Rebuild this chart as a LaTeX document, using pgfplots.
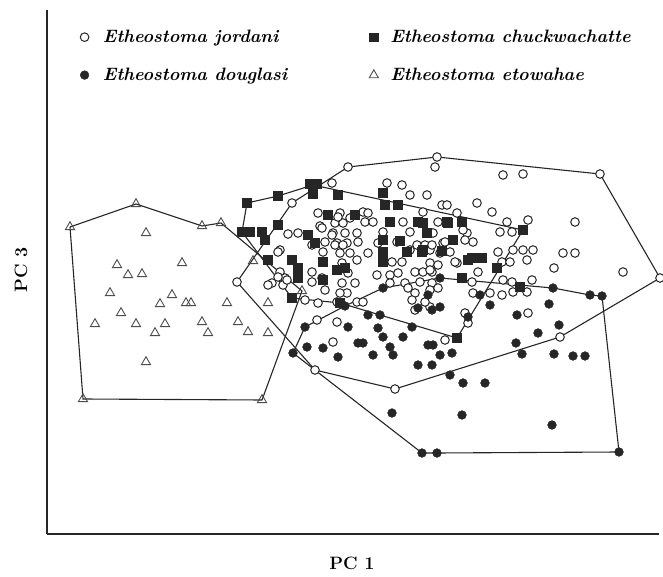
\documentclass[border=0pt]{standalone}
\usepackage{pgfplots}
\pgfplotsset{compat=1.18}
\usepackage{pgfplotstable}

\pgfplotstableread{
x y
237 282
292 203
348 167
437 157
600 174
660 278
560 337
395 389
315 370
435 167
332 183
387 183
402 185
410 195
427 195
442 205
447 205
457 213
318 213
340 213
363 212
368 213
365 222
373 222
403 222
423 212
438 222
335 223
343 223
288 234
298 233
320 226
333 233
345 233
357 233
383 232
410 232
433 233
467 233
280 250
312 245
325 242
337 243
347 243
358 242
378 243
397 242
417 245
425 245
443 243
340 253
350 253
368 253
410 250
430 250
440 253
450 252
457 263
280 272
285 278
272 283
283 285
312 272
312 282
342 263
357 260
392 262
402 262
430 263
438 265
348 273
377 275
390 275
398 273
415 272
423 272
432 272
342 283
355 283
390 283
405 283
420 282
432 283
347 293
415 293
430 290
438 288
408 288
305 300
318 303
337 302
357 302
363 302
322 278
325 290
340 293
335 245
343 245
323 252
322 228
332 235
338 217
350 218
278 252
268 285
317 320
337 322
333 342
445 340
412 300
415 310
430 307
425 302
503 175
523 174
477 203
492 212
507 222
528 220
575 222
500 232
512 232
463 230
473 242
465 240
445 242
432 245
498 252
513 250
523 250
533 250
527 260
502 262
510 262
455 262
554 268
623 272
478 272
472 282
503 280
512 282
532 280
513 292
527 292
473 293
490 293
502 295
465 313
468 323
528 313
563 253
575 253
430 270
287 280
278 277
}\jordani

\pgfplotstableread{
x y
247 203
278 196
310 184
317 184
313 194
338 195
278 225
242 232
250 232
262 232
265 240
308 235
315 243
328 215
355 215
383 193
385 205
398 205
390 222
418 222
427 233
383 240
400 241
383 252
407 252
422 252
442 251
383 262
268 260
292 260
298 268
298 278
323 262
323 280
337 270
345 268
292 298
340 303
447 222
462 222
453 240
468 260
423 223
448 223
423 250
472 258
482 258
497 268
462 278
523 230
520 287
457 338
}\chuck

\pgfplotstableread{
x y
293 353
305 327
345 306
383 288
440 278
553 288
590 295
602 296
619 452
437 453
422 453
348 327
307 347
323 348
338 357
358 343
363 343
373 355
378 328
383 337
390 347
393 355
403 337
412 327
368 315
380 315
428 345
433 345
440 355
452 353
418 365
432 365
450 375
463 383
485 383
392 413
462 415
552 425
428 295
440 307
468 317
418 308
432 310
480 295
490 305
549 304
517 315
559 325
538 333
516 343
522 354
554 354
573 356
585 356
}\douglasi

\pgfplotstableread{
x y
70 227
136 204
202 226
221 223
302 291
262 400
83 399
146 233
117 265
128 275
142 274
182 263
110 293
172 295
160 304
186 303
191 303
227 303
268 303
121 313
95 324
136 324
165 324
155 333
202 322
208 333
238 322
248 332
268 333
146 362
253 261
}\etowahae

\pgfplotstableread{
x y
70 227
136 204
202 226
221 223
302 291
262 400
83 399
70 227
}\hullE

\pgfplotstableread{
x y
237 282
292 203
348 167
437 157
600 174
660 278
560 337
395 389
315 370
237 282
}\hullJ

\pgfplotstableread{
x y
242 232
247 203
278 196
313 185
523 230
457 338
340 303
292 298
242 232
}\hullC

\pgfplotstableread{
x y
293 353
305 327
345 306
383 288
440 278
553 288
590 295
602 296
619 452
437 453
422 453
293 353
}\hullD

\begin{document}
\begin{tikzpicture}
\begin{axis}[
  scale only axis,
  width=612bp, height=524bp,
  xmin=47, xmax=659, ymin=43, ymax=567,
  axis x line=bottom, axis y line=left,
  axis line style={-, line width=2.3bp, black!85},
  xtick=\empty, ytick=\empty,
  clip=false,
  legend columns=2,
  legend cell align=left,
  legend style={draw=none, fill=none, at={(axis cs:77,551)}, anchor=north west,
    font=\fontsize{18}{21}\selectfont\bfseries\itshape,
    /tikz/column 1/.style={column sep=12bp},
    /tikz/column 2/.style={column sep=80bp},
    /tikz/column 3/.style={column sep=10bp},
    row sep=20bp},
]
\addplot[black!85, line width=1.1bp, forget plot] table[x=x, y expr=577-\thisrow{y}] {\hullE};
\addplot[black!85, line width=1.1bp, forget plot] table[x=x, y expr=577-\thisrow{y}] {\hullJ};
\addplot[black!85, line width=1.1bp, forget plot] table[x=x, y expr=577-\thisrow{y}] {\hullC};
\addplot[black!85, line width=1.1bp, forget plot] table[x=x, y expr=577-\thisrow{y}] {\hullD};

\addplot[only marks, mark=*, mark size=4.3bp, mark options={fill=white, draw=black!85, line width=1bp}]
  table[x=x, y expr=577-\thisrow{y}] {\jordani};
\addlegendentry{Etheostoma jordani}
\addplot[only marks, mark=square*, mark size=4.4bp, mark options={fill=black!85, draw=black!85}]
  table[x=x, y expr=577-\thisrow{y}] {\chuck};
\addlegendentry{Etheostoma chuckwachatte}
\addplot[only marks, mark=*, mark size=4.4bp, mark options={fill=black!85, draw=black!85}]
  table[x=x, y expr=577-\thisrow{y}] {\douglasi};
\addlegendentry{Etheostoma douglasi}
\addplot[only marks, mark=triangle, mark size=5.3bp, mark options={fill=white, draw=black!70, line width=0.9bp}]
  table[x=x, y expr=577-\thisrow{y}] {\etowahae};
\addlegendentry{Etheostoma etowahae}

\node[rotate=90, font=\fontsize{18}{21}\selectfont\bfseries] at (axis cs:21,307) {PC 3};
\node[font=\fontsize{18}{21}\selectfont\bfseries] at (axis cs:352,14) {PC 1};
\coordinate (bl) at (axis cs:0,0);
\coordinate (tr) at (axis cs:663,577);
\end{axis}
\pgfresetboundingbox
\path[use as bounding box] (bl) rectangle (tr);
\end{tikzpicture}
\end{document}
